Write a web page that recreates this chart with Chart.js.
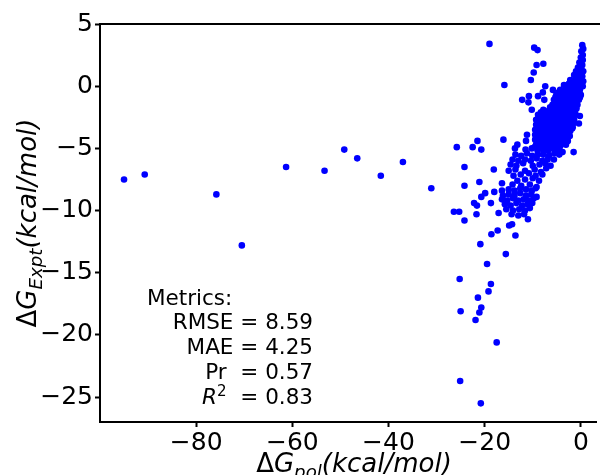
<!DOCTYPE html>
<html>
<head>
<meta charset="utf-8">
<script src="https://cdn.jsdelivr.net/npm/chart.js@4.4.1/dist/chart.umd.min.js"></script>
<style>
    html, body { margin: 0; padding: 0; background: #fff; }
    canvas { display: block; }
</style>
</head>
<body>
<canvas id="scatterChart" width="600" height="475"></canvas>
<script>
// Tick labels
const xTicks = [-80, -60, -40, -20, 0];
const yTicks = [5, 0, -5, -10, -15, -20, -25];

// Metrics box
const metricNames = ['RMSE', 'MAE', 'Pr'];
const metricValues = [8.59, 4.25, 0.57];
const r2Value = 0.83;

// Far left outliers [dG_pol, dG_expt]
const farPoints = [
    [-95.0, -7.5], [-90.7, -7.1], [-75.8, -8.7], [-70.5, -12.8], [-61.3, -6.5],
    [-53.3, -6.8], [-49.2, -5.1], [-46.5, -5.8], [-41.6, -7.2], [-37.0, -6.1],
    [-31.1, -8.2]
];

// Scattered points around the main cloud
const loosePoints = [
    [-19.0, 3.4], [-9.7, 3.1], [-9.0, 2.9], [-9.2, 1.7], [-7.8, 1.8], [-9.8, 1.1],
    [-10.4, 0.5], [-15.9, 0.1], [-7.4, 0.0], [-7.9, -0.5], [-5.8, -0.3], [-8.9, -0.8],
    [-12.2, -1.1], [-10.8, -0.8], [-10.9, -1.3], [-7.6, -1.1], [-10.2, -1.9],
    [-0.2, -2.4], [-0.4, -3.0], [-1.7, -3.3], [-1.5, -5.3], [-16.1, -4.3],
    [-11.2, -3.9], [-11.4, -4.4], [-13.2, -4.7], [-13.7, -5.0], [-21.5, -4.4],
    [-25.8, -4.9], [-22.5, -4.9], [-20.7, -5.1], [-24.2, -6.5], [-18.1, -6.7],
    [-24.2, -8.0], [-21.1, -7.7], [-16.4, -7.8], [-18.0, -8.5], [-19.9, -8.6],
    [-20.7, -8.9], [-18.7, -9.4], [-22.2, -9.4], [-21.6, -9.6], [-26.4, -10.1],
    [-25.3, -10.1], [-21.7, -10.3], [-24.2, -10.8], [-17.1, -10.2], [-11.0, -10.7],
    [-14.3, -11.1], [-14.9, -11.2], [-13.6, -12.0], [-17.3, -11.6], [-18.6, -11.9],
    [-20.9, -12.7], [-15.6, -13.5], [-19.5, -14.3], [-25.2, -15.5], [-18.7, -15.9],
    [-19.2, -16.5], [-21.4, -17.0], [-20.7, -17.8], [-25.0, -18.1], [-21.1, -18.2],
    [-21.9, -18.8], [-17.5, -20.6], [-25.1, -23.7], [-20.8, -25.5]
];

// Dense band near zero
const densePoints = [
    [0.3, 3.3], [0.5, 3.0], [0.1, 2.8], [0.4, 2.5], [0.0, 2.3], [0.4, 2.1], [-0.3, 1.9],
    [0.3, 1.7], [-0.6, 1.5], [0.1, 1.4], [0.5, 1.2], [-1.0, 1.2], [-0.3, 1.0], [-1.4, 0.9],
    [0.3, 0.8], [-0.7, 0.7], [-2.2, 0.5], [-1.2, 0.5], [-0.2, 0.4], [0.5, 0.4],
    [-3.5, 0.1], [-2.5, 0.2], [-1.6, 0.1], [-0.6, 0.1], [0.4, 0.0],
    [-4.3, -0.3], [-3.2, -0.3], [-2.2, -0.4], [-1.2, -0.3], [-0.2, -0.3],
    [-5.1, -0.7], [-4.0, -0.8], [-3.0, -0.7], [-2.0, -0.7], [-1.0, -0.8], [0.0, -0.7],
    [-5.6, -1.1], [-4.6, -1.2], [-3.5, -1.1], [-2.5, -1.1], [-1.4, -1.2], [-0.4, -1.1],
    [-5.9, -1.5], [-4.8, -1.6], [-3.8, -1.5], [-2.7, -1.5], [-1.7, -1.6], [-0.7, -1.5],
    [-7.8, -1.9], [-6.8, -2.0], [-5.8, -1.9], [-4.7, -1.9], [-3.7, -2.0], [-2.6, -1.9], [-1.5, -2.0], [-0.9, -1.8],
    [-8.9, -2.3], [-7.9, -2.4], [-6.9, -2.3], [-5.9, -2.3], [-4.8, -2.4], [-3.8, -2.3], [-2.8, -2.3], [-1.7, -2.4], [-1.1, -2.3],
    [-9.3, -2.7], [-8.3, -2.8], [-7.2, -2.7], [-6.2, -2.7], [-5.2, -2.8], [-4.1, -2.7], [-3.1, -2.7], [-2.1, -2.8], [-1.4, -2.7],
    [-9.3, -3.1], [-8.2, -3.2], [-7.2, -3.1], [-6.1, -3.1], [-5.1, -3.2], [-4.1, -3.1], [-3.0, -3.1], [-2.0, -3.2], [-1.6, -3.0],
    [-9.5, -3.5], [-8.5, -3.6], [-7.4, -3.5], [-6.4, -3.5], [-5.3, -3.6], [-4.3, -3.5], [-3.2, -3.5], [-2.2, -3.6], [-1.8, -3.4],
    [-9.5, -3.9], [-8.4, -4.0], [-7.3, -3.9], [-6.3, -3.9], [-5.3, -4.0], [-4.2, -3.9], [-3.2, -3.9], [-2.3, -4.0],
    [-9.5, -4.3], [-8.5, -4.4], [-7.4, -4.3], [-6.4, -4.3], [-5.4, -4.4], [-4.4, -4.3], [-3.4, -4.3], [-2.7, -4.4],
    [-9.3, -4.7], [-8.2, -4.8], [-7.2, -4.7], [-6.2, -4.7], [-5.2, -4.8], [-4.1, -4.7], [-3.1, -4.7],
    [-11.5, -5.1], [-10.2, -5.0], [-9.0, -5.2], [-7.9, -5.1], [-6.8, -5.2], [-5.7, -5.0], [-4.6, -5.1], [-3.8, -5.3]
];

// Extra points packed between the dense rows
const denseFill = [
    [-1.7, 0.3], [-0.7, 0.3], [0.2, 0.2], [-3.0, -0.1], [-2.0, -0.1], [-1.1, -0.1], [-0.1, -0.1],
    [-4.6, -0.5], [-3.6, -0.5], [-2.6, -0.5], [-1.5, -0.5], [-0.6, -0.5],
    [-5.3, -0.9], [-4.3, -0.9], [-3.2, -0.9], [-2.2, -0.9], [-1.2, -0.9], [-0.2, -0.9],
    [-5.1, -1.3], [-4.1, -1.3], [-3.0, -1.3], [-2.0, -1.3], [-1.0, -1.3],
    [-6.4, -1.7], [-5.3, -1.7], [-4.2, -1.7], [-3.2, -1.7], [-2.2, -1.7], [-1.2, -1.7],
    [-8.3, -2.1], [-7.3, -2.1], [-6.3, -2.1], [-5.2, -2.1], [-4.2, -2.1], [-3.2, -2.1], [-2.1, -2.1], [-1.2, -2.1],
    [-8.8, -2.5], [-7.7, -2.5], [-6.7, -2.5], [-5.7, -2.5], [-4.6, -2.5], [-3.6, -2.5], [-2.6, -2.5], [-1.6, -2.5],
    [-8.8, -2.9], [-7.7, -2.9], [-6.7, -2.9], [-5.6, -2.9], [-4.6, -2.9], [-3.6, -2.9], [-2.5, -2.9], [-1.8, -2.9],
    [-8.9, -3.3], [-7.8, -3.3], [-6.8, -3.3], [-5.7, -3.3], [-4.7, -3.3], [-3.7, -3.3], [-2.6, -3.3], [-1.9, -3.3],
    [-9.0, -3.7], [-7.9, -3.7], [-6.9, -3.7], [-5.8, -3.7], [-4.8, -3.7], [-3.7, -3.7], [-2.7, -3.7],
    [-9.0, -4.1], [-7.9, -4.1], [-6.9, -4.1], [-5.8, -4.1], [-4.8, -4.1], [-3.8, -4.1], [-2.9, -4.1],
    [-8.9, -4.5], [-7.8, -4.5], [-6.8, -4.5], [-5.8, -4.5], [-4.7, -4.5], [-3.7, -4.5], [-3.0, -4.5],
    [-9.6, -4.9], [-8.6, -4.9], [-7.5, -4.9], [-6.5, -4.9], [-5.5, -4.9], [-4.4, -4.9]
];

// Lower, looser part of the cloud
const lowerPoints = [
    [-13.6, -5.5], [-12.4, -5.6], [-11.2, -5.4], [-10.1, -5.6], [-8.9, -5.5], [-7.8, -5.5], [-6.6, -5.6], [-5.5, -5.4], [-4.5, -5.5],
    [-14.2, -5.9], [-13.0, -6.0], [-11.6, -5.9], [-10.4, -6.0], [-9.2, -5.8], [-8.0, -6.0], [-6.9, -5.9], [-5.6, -5.9],
    [-14.6, -6.3], [-13.4, -6.4], [-12.0, -6.2], [-10.0, -6.4], [-8.6, -6.3], [-7.4, -6.2], [-6.3, -6.4],
    [-15.0, -6.8], [-13.6, -6.7], [-11.6, -6.8], [-9.6, -6.7], [-8.3, -6.9], [-7.2, -6.6],
    [-14.0, -7.2], [-12.5, -7.1], [-10.8, -7.0], [-9.4, -7.2], [-8.0, -7.1],
    [-13.2, -7.6], [-11.6, -7.5], [-10.0, -7.4], [-8.7, -7.6],
    [-14.2, -7.9], [-12.4, -8.0], [-10.6, -7.9], [-9.2, -8.1],
    [-16.4, -8.4], [-15.0, -8.3], [-13.8, -8.4], [-12.6, -8.2], [-11.4, -8.3], [-10.2, -8.4], [-9.4, -8.2],
    [-16.2, -8.8], [-15.0, -8.7], [-13.8, -8.8], [-12.6, -8.6], [-11.4, -8.8], [-10.3, -8.7], [-9.2, -8.9],
    [-16.4, -9.1], [-15.3, -9.2], [-14.1, -9.0], [-13.0, -9.2], [-11.9, -9.1], [-10.8, -9.2], [-9.8, -9.0],
    [-15.8, -9.5], [-14.6, -9.6], [-13.4, -9.4], [-12.2, -9.6], [-11.1, -9.5], [-10.1, -9.4],
    [-15.5, -9.9], [-14.1, -10.0], [-12.8, -9.9], [-11.6, -10.0], [-10.6, -9.8],
    [-14.4, -10.3], [-13.0, -10.4], [-11.8, -10.3]
];

const FONT = 'DejaVu Sans';
const allPoints = farPoints.concat(loosePoints, densePoints, denseFill, lowerPoints);

// Minus sign like matplotlib
const fmtTick = (v) => (v < 0 ? '\u2212' + Math.abs(v) : String(v));

// Draw runs of text (normal / italic / sub / sup), returns width
function drawRuns(ctx, runs, x, y, size, align) {
    const fontFor = (r) => {
        const s = (r.sub || r.sup) ? size * 0.7 : size;
        return (r.italic ? 'italic ' : '') + s + 'px "' + FONT + '"';
    };
    let total = 0;
    runs.forEach(r => { ctx.font = fontFor(r); total += ctx.measureText(r.t).width; });
    let cx = x;
    if (align === 'center') cx = x - total / 2;
    if (align === 'right') cx = x - total;
    ctx.textAlign = 'left';
    ctx.textBaseline = 'alphabetic';
    runs.forEach(r => {
        ctx.font = fontFor(r);
        let dy = 0;
        if (r.sub) dy = size * 0.24;
        if (r.sup) dy = -size * 0.38;
        ctx.fillText(r.t, cx, y + dy);
        cx += ctx.measureText(r.t).width;
    });
    return total;
}

// Top spine, axis titles and metrics text
const extrasPlugin = {
    id: 'extras',
    afterDraw(chart) {
        const ctx = chart.ctx;
        const area = chart.chartArea;
        ctx.save();
        ctx.strokeStyle = '#000';
        ctx.lineWidth = 2;
        ctx.beginPath();
        ctx.moveTo(area.left - 1, area.top);
        ctx.lineTo(chart.width, area.top);
        ctx.stroke();

        ctx.fillStyle = '#000';
        // x title
        drawRuns(ctx, [
            { t: '\u0394' }, { t: 'G', italic: true }, { t: 'pol', italic: true, sub: true },
            { t: '(kcal/mol)', italic: true }
        ], 354, 472, 26, 'center');

        // y title
        ctx.save();
        ctx.translate(36, (area.top + area.bottom) / 2);
        ctx.rotate(-Math.PI / 2);
        drawRuns(ctx, [
            { t: '\u0394' }, { t: 'G', italic: true }, { t: 'Expt', italic: true, sub: true },
            { t: '(kcal/mol)', italic: true }
        ], 0, 0, 26, 'center');
        ctx.restore();

        // metrics
        const mSize = 21.5;
        ctx.font = mSize + 'px "' + FONT + '"';
        ctx.textAlign = 'left';
        ctx.fillText('Metrics:', 147, 305);
        metricNames.forEach((name, i) => {
            ctx.font = mSize + 'px "' + FONT + '"';
            ctx.textAlign = 'right';
            ctx.fillText(name + (i === 2 ? '  ' : ' ') + '= ' + metricValues[i].toFixed(2), 313, 329 + i * 25);
        });
        drawRuns(ctx, [
            { t: 'R', italic: true }, { t: '2', sup: true }, { t: '  = ' + r2Value.toFixed(2) }
        ], 313, 404, mSize, 'right');
        ctx.restore();
    }
};

// Build chart
new Chart(document.getElementById('scatterChart'), {
    type: 'scatter',
    data: {
        datasets: [{
            data: allPoints.map(p => ({ x: p[0], y: p[1] })),
            backgroundColor: '#0000ff',
            borderWidth: 0,
            pointRadius: 3.3,
            pointHoverRadius: 3.3
        }]
    },
    options: {
        responsive: false,
        animation: false,
        events: [],
        layout: { padding: { top: 24, left: 0, right: 0, bottom: 0 } },
        plugins: {
            legend: { display: false },
            tooltip: { enabled: false }
        },
        scales: {
            x: {
                type: 'linear',
                min: -100,
                max: 3.3,
                afterBuildTicks: (s) => { s.ticks = xTicks.map(v => ({ value: v })); },
                afterFit: (s) => { s.height = 53; },
                grid: { drawOnChartArea: false, color: '#000', tickLength: 5, tickWidth: 2 },
                border: { color: '#000', width: 2 },
                ticks: {
                    color: '#000',
                    font: { family: FONT, size: 25 },
                    padding: 1,
                    maxRotation: 0,
                    callback: fmtTick
                }
            },
            y: {
                type: 'linear',
                min: -27,
                max: 5,
                afterBuildTicks: (s) => { s.ticks = yTicks.map(v => ({ value: v })); },
                afterFit: (s) => { s.width = 100; },
                grid: { drawOnChartArea: false, color: '#000', tickLength: 5, tickWidth: 2 },
                border: { color: '#000', width: 2 },
                ticks: {
                    color: '#000',
                    font: { family: FONT, size: 25 },
                    padding: 2,
                    callback: fmtTick
                }
            }
        }
    },
    plugins: [extrasPlugin]
});
</script>
</body>
</html>
